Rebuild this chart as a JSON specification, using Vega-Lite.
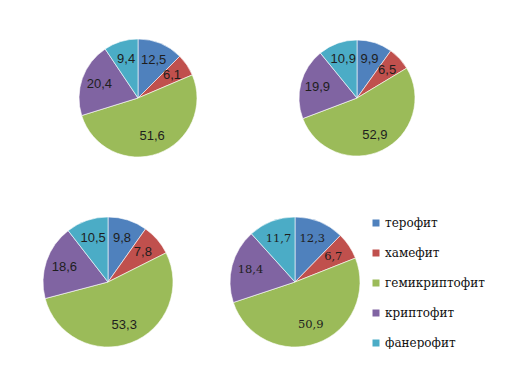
{
  "$schema": "https://vega.github.io/schema/vega-lite/v6.json",
  "padding": 0,
  "background": "white",
  "datasets": {
    "d": [
      {"chart": 1, "k": 1, "type": "терофит", "value": 12.5},
      {"chart": 1, "k": 2, "type": "хамефит", "value": 6.1},
      {"chart": 1, "k": 3, "type": "гемикриптофит", "value": 51.6},
      {"chart": 1, "k": 4, "type": "криптофит", "value": 20.4},
      {"chart": 1, "k": 5, "type": "фанерофит", "value": 9.4},
      {"chart": 2, "k": 1, "type": "терофит", "value": 9.9},
      {"chart": 2, "k": 2, "type": "хамефит", "value": 6.5},
      {"chart": 2, "k": 3, "type": "гемикриптофит", "value": 52.9},
      {"chart": 2, "k": 4, "type": "криптофит", "value": 19.9},
      {"chart": 2, "k": 5, "type": "фанерофит", "value": 10.9},
      {"chart": 3, "k": 1, "type": "терофит", "value": 9.8},
      {"chart": 3, "k": 2, "type": "хамефит", "value": 7.8},
      {"chart": 3, "k": 3, "type": "гемикриптофит", "value": 53.3},
      {"chart": 3, "k": 4, "type": "криптофит", "value": 18.6},
      {"chart": 3, "k": 5, "type": "фанерофит", "value": 10.5},
      {"chart": 4, "k": 1, "type": "терофит", "value": 12.3},
      {"chart": 4, "k": 2, "type": "хамефит", "value": 6.7},
      {"chart": 4, "k": 3, "type": "гемикриптофит", "value": 50.9},
      {"chart": 4, "k": 4, "type": "криптофит", "value": 18.4},
      {"chart": 4, "k": 5, "type": "фанерофит", "value": 11.7}
    ]
  },
  "spacing": 19,
  "resolve": {"scale": {"color": "independent"}, "legend": {"color": "independent"}},
  "vconcat": [
    {
      "spacing": 16,
      "resolve": {"scale": {"color": "independent"}, "legend": {"color": "independent"}},
      "hconcat": [
        {
          "width": 276, "height": 196,
          "data": {"name": "d"},
          "transform": [{"filter": "datum.chart == 1"}],
          "encoding": {
            "theta": {"field": "value", "type": "quantitative", "stack": true},
            "order": {"field": "k", "type": "quantitative"}
          },
          "layer": [
            {"mark": {"type": "arc", "outerRadius": 59, "stroke": "white", "strokeWidth": 0.6},
             "encoding": {"color": {"field": "type", "type": "nominal", "legend": null,
               "scale": {"domain": ["терофит", "хамефит", "гемикриптофит", "криптофит", "фанерофит"],
                         "range": ["#4F81BD", "#C0504D", "#9BBB59", "#8064A2", "#4BACC6"]}}}},
            {"mark": {"type": "text", "radius": 41, "font": "Liberation Sans", "fontSize": 13, "color": "#1e1e1e"},
             "encoding": {"text": {"field": "value", "type": "quantitative", "format": ".1f"}}}
          ]
        },
        {
          "width": 130, "height": 196,
          "data": {"name": "d"},
          "transform": [{"filter": "datum.chart == 2"}],
          "encoding": {
            "theta": {"field": "value", "type": "quantitative", "stack": true},
            "order": {"field": "k", "type": "quantitative"}
          },
          "layer": [
            {"mark": {"type": "arc", "outerRadius": 58, "stroke": "white", "strokeWidth": 0.6},
             "encoding": {"color": {"field": "type", "type": "nominal", "legend": null,
               "scale": {"domain": ["терофит", "хамефит", "гемикриптофит", "криптофит", "фанерофит"],
                         "range": ["#4F81BD", "#C0504D", "#9BBB59", "#8064A2", "#4BACC6"]}}}},
            {"mark": {"type": "text", "radius": 41, "font": "Liberation Sans", "fontSize": 13, "color": "#1e1e1e"},
             "encoding": {"text": {"field": "value", "type": "quantitative", "format": ".1f"}}}
          ]
        }
      ]
    },
    {
      "spacing": 12,
      "resolve": {"scale": {"color": "independent"}, "legend": {"color": "independent"}},
      "hconcat": [
        {
          "width": 216, "height": 130,
          "data": {"name": "d"},
          "transform": [{"filter": "datum.chart == 3"}],
          "encoding": {
            "theta": {"field": "value", "type": "quantitative", "stack": true},
            "order": {"field": "k", "type": "quantitative"}
          },
          "layer": [
            {"mark": {"type": "arc", "outerRadius": 65, "stroke": "white", "strokeWidth": 0.6},
             "encoding": {"color": {"field": "type", "type": "nominal", "legend": null,
               "scale": {"domain": ["терофит", "хамефит", "гемикриптофит", "криптофит", "фанерофит"],
                         "range": ["#4F81BD", "#C0504D", "#9BBB59", "#8064A2", "#4BACC6"]}}}},
            {"mark": {"type": "text", "radius": 46, "font": "Liberation Sans", "fontSize": 13, "color": "#1e1e1e"},
             "encoding": {"text": {"field": "value", "type": "quantitative", "format": ".1f"}}}
          ]
        },
        {
          "width": 130, "height": 130,
          "data": {"name": "d"},
          "transform": [{"filter": "datum.chart == 4"}],
          "encoding": {
            "theta": {"field": "value", "type": "quantitative", "stack": true},
            "order": {"field": "k", "type": "quantitative"}
          },
          "layer": [
            {"mark": {"type": "arc", "outerRadius": 65, "stroke": "white", "strokeWidth": 0.6},
             "encoding": {"color": {"field": "type", "type": "nominal",
               "scale": {"domain": ["терофит", "хамефит", "гемикриптофит", "криптофит", "фанерофит"],
                         "range": ["#4F81BD", "#C0504D", "#9BBB59", "#8064A2", "#4BACC6"]},
               "legend": {"title": null, "orient": "right", "offset": 10, "padding": 0,
                          "symbolType": "square", "symbolSize": 49, "symbolStrokeWidth": 0,
                          "labelFont": "DejaVu Serif", "labelFontSize": 12, "labelColor": "#111",
                          "labelOffset": 3, "rowPadding": 18}}}},
            {"mark": {"type": "text", "radius": 46, "font": "DejaVu Serif", "fontSize": 11.5, "color": "#1e1e1e"},
             "encoding": {"text": {"field": "value", "type": "quantitative", "format": ".1f"}}}
          ]
        }
      ]
    }
  ],
  "config": {
    "view": {"stroke": null},
    "locale": {"number": {"decimal": ",", "thousands": " ", "grouping": [3], "currency": ["", ""]}}
  }
}
